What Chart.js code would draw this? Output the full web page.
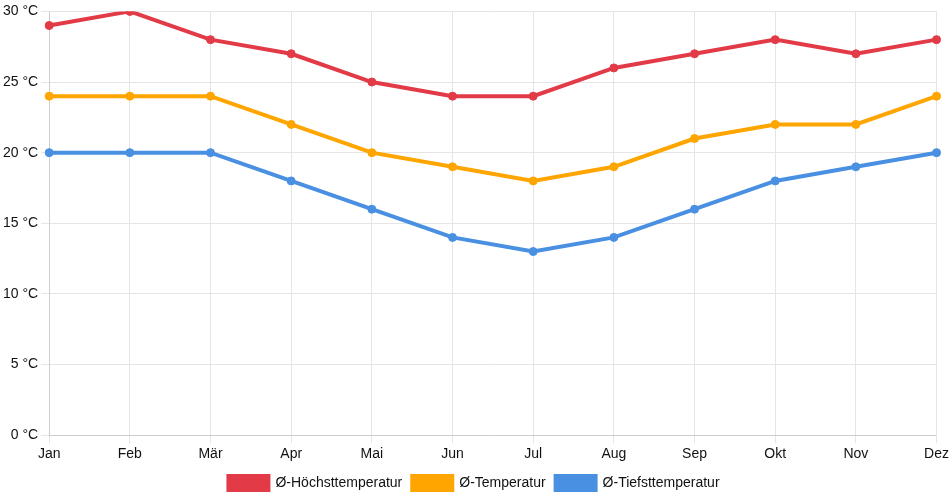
<!DOCTYPE html>
<html>
<head>
<meta charset="utf-8">
<script src="https://cdn.jsdelivr.net/npm/chart.js@4"></script>
<style>
  html, body { margin: 0; padding: 0; background: #fff; }
  #wrap { width: 952px; height: 500px; }
</style>
</head>
<body>
<div id="wrap"><canvas id="climateChart"></canvas></div>
<script>
// Monthly climate values
const months = ['Jan', 'Feb', 'Mär', 'Apr', 'Mai', 'Jun', 'Jul', 'Aug', 'Sep', 'Okt', 'Nov', 'Dez'];
const highTemps = [29, 30, 28, 27, 25, 24, 24, 26, 27, 28, 27, 28];
const avgTemps = [24, 24, 24, 22, 20, 19, 18, 19, 21, 22, 22, 24];
const lowTemps = [20, 20, 20, 18, 16, 14, 13, 14, 16, 18, 19, 20];

Chart.defaults.font.family = '"Liberation Sans", Arial, sans-serif';
Chart.defaults.font.size = 14;
Chart.defaults.color = '#111';

function lineSet(label, data, color) {
  return {
    label: label,
    data: data,
    borderColor: color,
    backgroundColor: color,
    borderWidth: 4,
    pointRadius: 4,
    pointBorderWidth: 1,
    pointBackgroundColor: color,
    pointBorderColor: color,
    tension: 0,
    fill: false
  };
}

new Chart(document.getElementById('climateChart'), {
  type: 'line',
  data: {
    labels: months,
    datasets: [
      lineSet('Ø-Höchsttemperatur', highTemps, '#e23a47'),
      lineSet('Ø-Temperatur', avgTemps, '#ffa500'),
      lineSet('Ø-Tiefsttemperatur', lowTemps, '#4a90e2')
    ]
  },
  options: {
    responsive: true,
    maintainAspectRatio: false,
    animation: false,
    layout: { padding: { top: 4, right: 4 } },
    plugins: {
      legend: {
        position: 'bottom',
        labels: { boxWidth: 40, padding: 10 }
      },
      tooltip: { enabled: false }
    },
    scales: {
      y: {
        min: 0,
        max: 30,
        ticks: {
          stepSize: 5,
          callback: v => v + ' °C'
        },
        grid: { color: '#e5e5e5' }
      },
      x: {
        grid: { color: '#e5e5e5' },
        ticks: { maxRotation: 0 }
      }
    }
  }
});
</script>
</body>
</html>
